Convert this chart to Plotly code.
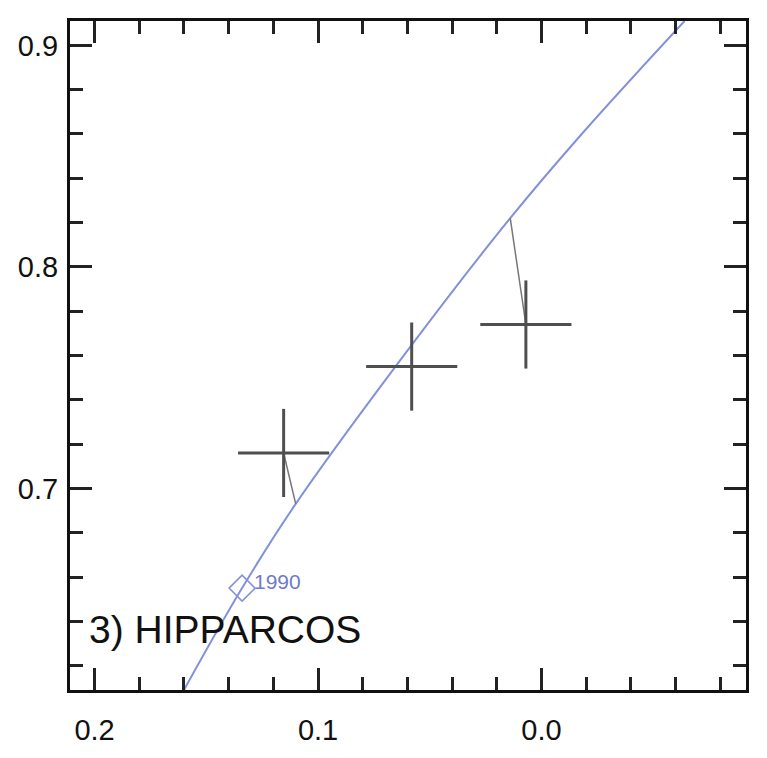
import plotly.graph_objects as go

# Model track (blue curve)
track_x = [0.160, 0.134, 0.110, 0.0579, 0.014, -0.018, -0.064]
track_y = [0.609, 0.655, 0.693, 0.765, 0.822, 0.860, 0.911]

# Epoch marker
epoch_label = "1990"
epoch_x = [0.134]
epoch_y = [0.655]

# Observations with error bars
obs_x = [0.1154, 0.0581, 0.007]
obs_y = [0.716, 0.755, 0.774]
obs_xerr = [0.0204, 0.0204, 0.0204]
obs_yerr = [0.0199, 0.0199, 0.0199]

# Model points each observation is linked to
link_x = [0.110, 0.0579, 0.014]
link_y = [0.693, 0.765, 0.822]

panel_label = "3) HIPPARCOS"
x_ticks = [0.2, 0.1, 0.0]
y_ticks = [0.7, 0.8, 0.9]

BLUE = "#8391dc"
GRAY = "#4f4f4f"
FONT = "Liberation Sans, Arial, Helvetica, sans-serif"

fig = go.Figure()

fig.add_trace(go.Scatter(
    x=track_x, y=track_y, mode="lines",
    line=dict(color=BLUE, width=2, shape="spline"),
    hoverinfo="skip", showlegend=False))

for ox, oy, lx, ly in zip(obs_x, obs_y, link_x, link_y):
    fig.add_trace(go.Scatter(
        x=[ox, lx], y=[oy, ly], mode="lines",
        line=dict(color="#777777", width=1.5),
        hoverinfo="skip", showlegend=False))

fig.add_trace(go.Scatter(
    x=obs_x, y=obs_y, mode="markers",
    marker=dict(size=1, color="rgba(0,0,0,0)"),
    error_x=dict(type="data", array=obs_xerr, color=GRAY, thickness=3, width=0),
    error_y=dict(type="data", array=obs_yerr, color=GRAY, thickness=3, width=0),
    showlegend=False))

fig.add_trace(go.Scatter(
    x=epoch_x, y=epoch_y, mode="markers",
    marker=dict(symbol="diamond-open", size=20, color=BLUE,
                line=dict(color=BLUE, width=1.5)),
    showlegend=False))

fig.add_annotation(x=0.1295, y=0.658, xref="x", yref="y", text=epoch_label,
                   showarrow=False, xanchor="left", yanchor="middle",
                   font=dict(family=FONT, size=21, color="#6f7acb"))

fig.add_annotation(x=0.2035, y=0.6364, xref="x", yref="y", text=panel_label,
                   showarrow=False, xanchor="left", yanchor="middle",
                   font=dict(family=FONT, size=39, color="#111111"))

axis_common = dict(
    showline=True, linewidth=3, linecolor="#111111", mirror="ticks",
    ticks="inside", ticklen=22, tickwidth=2.5, tickcolor="#222222",
    showgrid=False, zeroline=False,
    tickfont=dict(family=FONT, size=29, color="#111111"),
    minor=dict(ticks="inside", ticklen=13, tickwidth=2.5, tickcolor="#222222",
               dtick=0.02, tick0=0, showgrid=False),
)

fig.update_xaxes(range=[0.211, -0.0915], tickvals=x_ticks,
                 ticktext=[f"{v:.1f}" for v in x_ticks],
                 ticklabelstandoff=12, **axis_common)
fig.update_yaxes(range=[0.609, 0.911], tickvals=y_ticks,
                 ticktext=[f"{v:.1f}" for v in y_ticks],
                 ticklabelstandoff=3, **axis_common)

fig.update_layout(
    width=767, height=758,
    margin=dict(l=70, r=21, t=21, b=62),
    paper_bgcolor="white", plot_bgcolor="white",
    showlegend=False,
)

fig.write_html("out.html")
